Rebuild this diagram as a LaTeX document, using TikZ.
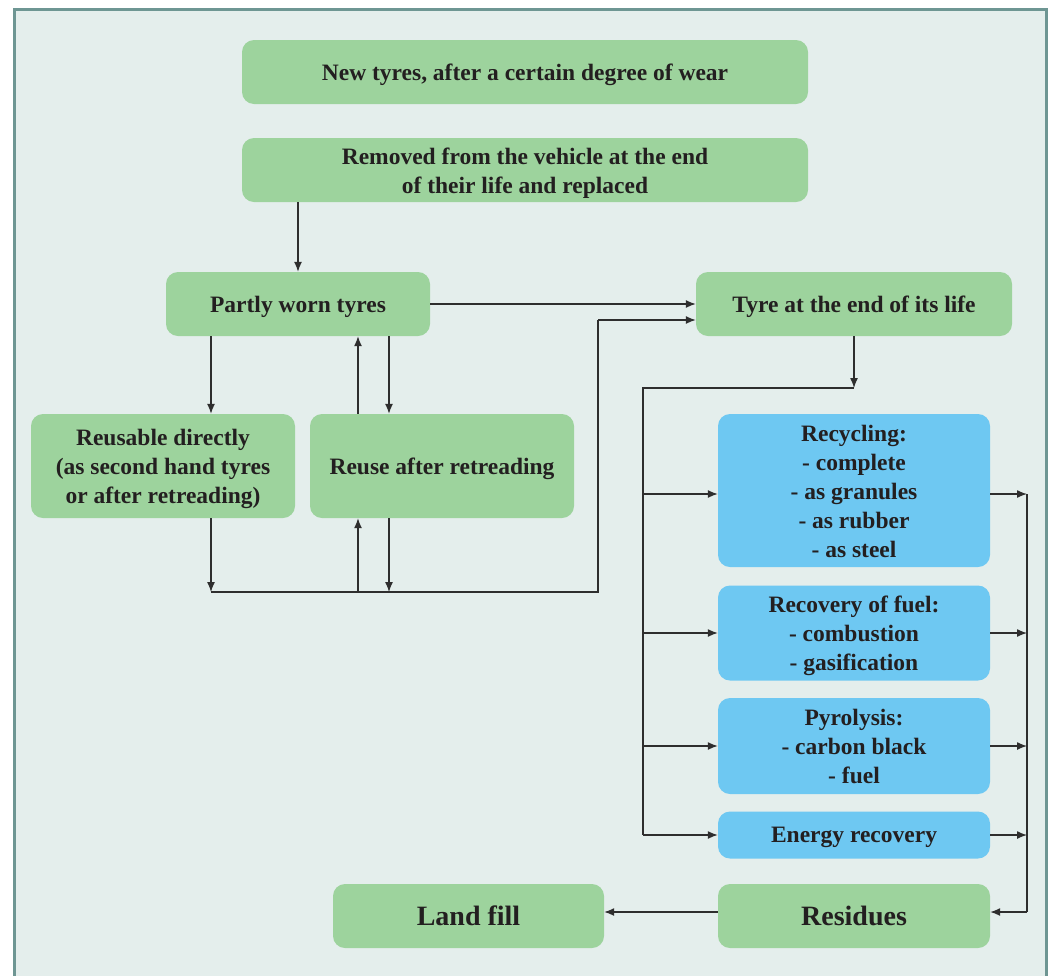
\documentclass[tikz,border=0pt]{standalone}
\usepackage{fontspec}
\setmainfont{Liberation Serif}
\usetikzlibrary{arrows.meta,calc}
\definecolor{bg}{HTML}{E4EEEC}
\definecolor{frame}{HTML}{6E9693}
\definecolor{gfill}{HTML}{9DD39D}
\definecolor{bfill}{HTML}{6EC8F2}
\definecolor{txt}{HTML}{231F20}
\definecolor{ln}{HTML}{2E2E2E}
\tikzset{
  box/.style={rounded corners=12pt, inner sep=0pt},
  gbox/.style={box, fill=gfill},
  bbox/.style={box, fill=bfill},
  lbl/.style={inner sep=0pt, align=center, text=txt,
    font=\bfseries\fontsize{23.5}{29}\selectfont},
  big/.style={font=\bfseries\fontsize{28}{32}\selectfont},
  arr/.style={draw=ln, line width=1.3pt, -{Latex[length=10pt,width=8pt]}},
  ln/.style={draw=ln, line width=1.3pt}
}
\begin{document}
\begin{tikzpicture}[x=1pt,y=-1pt]
\useasboundingbox (0,0) rectangle (1052,975);
\fill[white] (0,0) rectangle (1052,975);
\fill[bg] (14,9) rectangle (1046,976);
\draw[frame, line width=3pt] (14,977) -- (14,9) -- (1046,9) -- (1046,977);

\node[gbox, minimum width=566, minimum height=64] (new) at (525,72) {};
\node[lbl] (new-t) at ([yshift=-3pt]new.center) {New tyres, after a certain degree of wear};
\node[gbox, minimum width=566, minimum height=64] (rem) at (525,170) {};
\node[lbl] (rem-t) at ([yshift=-3pt]rem.center) {Removed from the vehicle at the end\\of their life and replaced};
\node[gbox, minimum width=264, minimum height=64] (pw) at (298,304) {};
\node[lbl] (pw-t) at ([yshift=-3pt]pw.center) {Partly worn tyres};
\node[gbox, minimum width=316, minimum height=64] (eol) at (854,304) {};
\node[lbl] (eol-t) at ([yshift=-3pt]eol.center) {Tyre at the end of its life};
\node[gbox, minimum width=264, minimum height=104] (rd) at (163,466) {};
\node[lbl] (rd-t) at ([yshift=-3pt]rd.center) {Reusable directly\\(as second hand tyres\\or after retreading)};
\node[gbox, minimum width=264, minimum height=104] (rr) at (442,466) {};
\node[lbl] (rr-t) at ([yshift=-3pt]rr.center) {Reuse after retreading};
\node[bbox, minimum width=272, minimum height=153] (rec) at (854,490.5) {};
\node[lbl] (rec-t) at ([yshift=-1pt]rec.center) {Recycling:\\- complete\\- as granules\\- as rubber\\- as steel};
\node[bbox, minimum width=272, minimum height=95] (fuel) at (854,633) {};
\node[lbl] (fuel-t) at ([yshift=-3pt]fuel.center) {Recovery of fuel:\\- combustion\\- gasification};
\node[bbox, minimum width=272, minimum height=96] (pyr) at (854,746) {};
\node[lbl] (pyr-t) at (pyr.center) {Pyrolysis:\\- carbon black\\- fuel};
\node[bbox, minimum width=272, minimum height=47] (en) at (854,835) {};
\node[lbl] (en-t) at ([yshift=-2pt]en.center) {Energy recovery};
\node[gbox, minimum width=272, minimum height=64] (res) at (854,916) {};
\node[lbl, big] (res-t) at (res.center) {Residues};
\node[gbox, minimum width=271, minimum height=64] (lf) at (468.5,916) {};
\node[lbl, big] (lf-t) at (lf.center) {Land fill};

% coordinates for the buses
\coordinate (busL) at (211,592);
\coordinate (busR) at (598,592);
\coordinate (busU) at (598,320);
\coordinate (splitT) at (854,388);
\coordinate (splitL) at (643,388);
\coordinate (splitB) at (643,835);
\coordinate (mergeT) at (1027,494);
\coordinate (mergeB) at (1027,912);

\draw[arr] (pw.north |- rem.south) -- (pw.north);
\draw[arr] (pw.east) -- (eol.west);
\draw[arr] ([xshift=48]rd.north |- pw.south) -- ([xshift=48]rd.north);
\draw[arr] ([xshift=-84]rr.north) -- ([xshift=-84]rr.north |- pw.south);
\draw[arr] ([xshift=-53]rr.north |- pw.south) -- ([xshift=-53]rr.north);

\draw[arr] ([xshift=48]rd.south) -- (busL);
\draw[ln] (busL) -- (busR) -- (busU);
\draw[arr] (busU) -- (busU -| eol.west);
\draw[arr] ([xshift=-84]rr.south |- busL) -- ([xshift=-84]rr.south);
\draw[arr] ([xshift=-53]rr.south) -- ([xshift=-53]rr.south |- busL);

\draw[arr] (eol.south -| splitT) -- (splitT);
\draw[ln] (splitT) -- (splitL) -- (splitB);
\draw[arr] (splitL |- mergeT) -- (rec.west |- mergeT);
\draw[arr] (splitL |- fuel.west) -- (fuel.west);
\draw[arr] (splitL |- pyr.west) -- (pyr.west);
\draw[arr] (splitB) -- (splitB -| en.west);

\draw[arr] (rec.east |- mergeT) -- (mergeT);
\draw[arr] (fuel.east) -- (fuel.east -| mergeT);
\draw[arr] (pyr.east) -- (pyr.east -| mergeT);
\draw[arr] (en.east) -- (en.east -| mergeT);
\draw[ln] (mergeT) -- (mergeB);
\draw[arr] (mergeB) -- (mergeB -| res.east);
\draw[arr] (res.west |- mergeB) -- (lf.east |- mergeB);
\end{tikzpicture}
\end{document}
